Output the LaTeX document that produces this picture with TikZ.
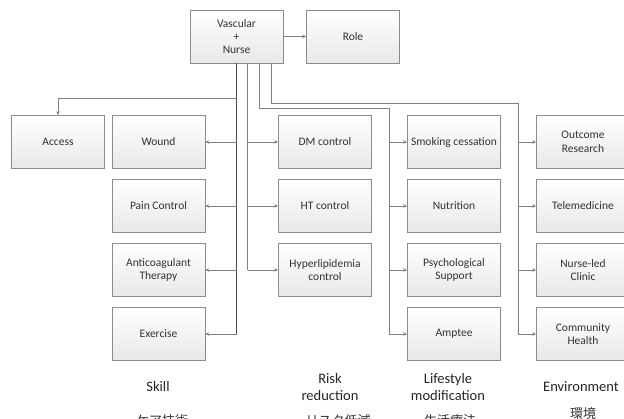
\documentclass[tikz,border=0pt]{standalone}
\usepackage{fontspec}
\setmainfont{Carlito}
\newfontfamily\jpfont{Noto Sans CJK JP}
\usetikzlibrary{arrows.meta,positioning}
\definecolor{boxline}{RGB}{140,140,140}
\definecolor{linkgray}{RGB}{128,128,128}
\definecolor{txtgray}{RGB}{50,50,50}

\begin{document}
\begin{tikzpicture}[x=1pt,y=-1pt,
  box/.style={draw=boxline,top color=white,bottom color=gray!18,minimum width=93pt,minimum height=53pt,inner sep=2pt,font=\fontsize{11.5}{13.4}\selectfont,text=txtgray,align=center},
  link/.style={draw=linkgray,line width=0.8pt},
  trunk/.style={draw=black!70,line width=1pt},
  arr/.style={link,-{Stealth[length=4pt,width=3.5pt]}},
  cat/.style={font=\fontsize{14.5}{17.4}\selectfont,text=black!85,align=center},
  jp/.style={font=\jpfont\fontsize{13}{15}\selectfont,text=txtgray,anchor=north}]
  \useasboundingbox (0,0) rectangle (624,418);
  % top
  \node[box] (vn) at (236.5,36.5) {Vascular\\+\\Nurse};
  \node[box] (role) at (353,36.5) {Role};
  \draw[arr] (vn) -- (role);
  % skill column
  \node[box] (access) at (58,142) {Access};
  \node[box] (wound) at (158.5,142) {Wound};
  \node[box] (pain) at (158.5,206) {Pain Control};
  \node[box] (anticoag) at (158.5,270) {Anticoagulant\\Therapy};
  \node[box] (exercise) at (158.5,334) {Exercise};
  % risk reduction column
  \node[box] (dm) at (325,142) {DM control};
  \node[box] (ht) at (325,206) {HT control};
  \node[box] (lipid) at (325,270) {Hyperlipidemia\\control};
  % lifestyle column
  \node[box] (smoking) at (454,142) {Smoking cessation};
  \node[box] (nutrition) at (454,206) {Nutrition};
  \node[box] (psych) at (454,270) {Psychological\\Support};
  \node[box] (amptee) at (454,334) {Amptee};
  % environment column
  \node[box] (outcome) at (583,142) {Outcome\\Research};
  \node[box] (tele) at (583,206) {Telemedicine};
  \node[box] (clinic) at (583,270) {Nurse-led\\Clinic};
  \node[box] (community) at (583,334) {Community\\Health};

  % buses
  \coordinate (bS) at (vn.south);
  \coordinate (bR) at ([xshift=11pt]vn.south);
  \coordinate (bL) at ([xshift=22.5pt]vn.south);
  \coordinate (bE) at ([xshift=34.5pt]vn.south);
  \coordinate (tA) at (58,98);
  \coordinate (tL) at (389,108);
  \coordinate (tE) at (518,103);

  \draw[trunk] (bS) -- (bS |- exercise);
  \draw[link] (bS |- tA) -- (tA);
  \draw[arr] (tA) -- (access);
  \draw[arr] (bS |- wound) -- (wound);
  \draw[arr] (bS |- pain) -- (pain);
  \draw[arr] (bS |- anticoag) -- (anticoag);
  \draw[arr] (bS |- exercise) -- (exercise);

  \draw[link] (bR) -- (bR |- lipid);
  \draw[arr] (bR |- dm) -- (dm);
  \draw[arr] (bR |- ht) -- (ht);
  \draw[arr] (bR |- lipid) -- (lipid);

  \draw[link] (bL) |- (tL) -- (tL |- amptee);
  \draw[arr] (tL |- smoking) -- (smoking);
  \draw[arr] (tL |- nutrition) -- (nutrition);
  \draw[arr] (tL |- psych) -- (psych);
  \draw[arr] (tL |- amptee) -- (amptee);

  \draw[link] (bE) |- (tE) -- (tE |- community);
  \draw[arr] (tE |- outcome) -- (outcome);
  \draw[arr] (tE |- tele) -- (tele);
  \draw[arr] (tE |- clinic) -- (clinic);
  \draw[arr] (tE |- community) -- (community);

  % category labels
  \node[cat] (skill) at (158,387) {Skill};
  \node[cat] (risk) at (330,387) {Risk\\reduction};
  \node[cat] (life) at (448,387) {Lifestyle\\modification};
  \node[cat] (env) at (581,387) {Environment};
  \node[jp] (skilljp) at (162,411) {ケア技術};
  \node[jp] (riskjp) at (338,411) {リスク低減};
  \node[jp] (lifejp) at (450,411) {生活療法};
  \node[jp] (envjp) at (583,404) {環境};
\end{tikzpicture}
\end{document}
